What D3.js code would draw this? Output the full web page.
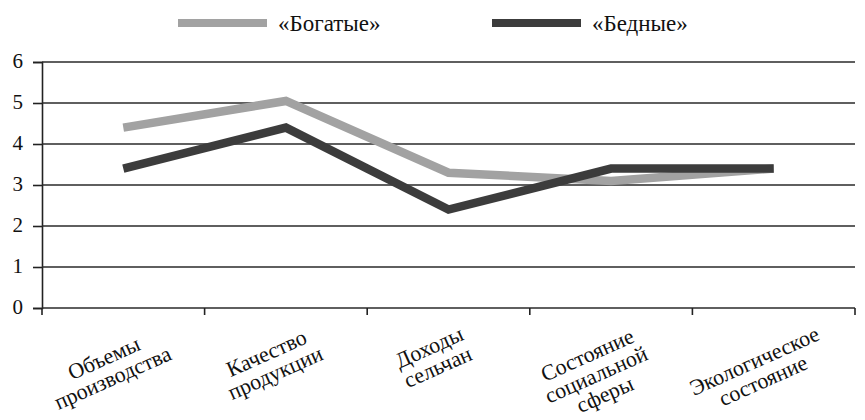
<!DOCTYPE html>
<html>
<head>
<meta charset="utf-8">
<script src="https://cdn.jsdelivr.net/npm/d3@7"></script>
<style>
  html, body { margin: 0; padding: 0; background: #fff; }
  svg { display: block; }
</style>
</head>
<body>
<svg id="chart" width="865" height="420"></svg>
<script>
// Category labels (line breaks as printed)
const categories = [
  ["Объемы", "производства"],
  ["Качество", "продукции"],
  ["Доходы", "сельчан"],
  ["Состояние", "социальной", "сферы"],
  ["Экологическое", "состояние"]
];
const seriesNames = ["«Богатые»", "«Бедные»"];
const richValues = [4.4, 5.05, 3.3, 3.1, 3.4];
const poorValues = [3.4, 4.4, 2.4, 3.4, 3.4];
const yTicks = [0, 1, 2, 3, 4, 5, 6];

const colors = ["#a2a2a2", "#3c3c3c"];
const FONT = "Liberation Serif";
const svg = d3.select("#chart");
const W = 865, H = 420;
const margin = { left: 42, right: 10, top: 62, bottom: 112 };

const x = d3.scaleBand()
  .domain(d3.range(categories.length))
  .range([margin.left, W - margin.right])
  .padding(0);
const y = d3.scaleLinear()
  .domain([0, 6])
  .range([H - margin.bottom, margin.top]);

// value axis with short outer ticks
const yAxis = d3.axisLeft(y).tickValues(yTicks).tickSize(9).tickPadding(10).tickFormat(d3.format("d"));
const gy = svg.append("g").attr("transform", `translate(${margin.left},0)`).call(yAxis)
  .attr("font-family", FONT).attr("font-size", 21);
gy.select(".domain").attr("stroke", "#222").attr("stroke-width", 1.6);
gy.selectAll(".tick line").attr("stroke", "#222").attr("stroke-width", 1.6);
gy.selectAll(".tick text").attr("fill", "#111").attr("dy", "0.26em");

// horizontal gridlines
svg.append("g").selectAll("line").data(yTicks).join("line")
  .attr("x1", margin.left).attr("x2", W - margin.right)
  .attr("y1", d => y(d)).attr("y2", d => y(d))
  .attr("stroke", "#2a2a2a").attr("stroke-width", 1.6);

// category axis: ticks at band boundaries
const boundaries = d3.range(categories.length + 1).map(i => margin.left + i * x.bandwidth());
svg.append("g").selectAll("line").data(boundaries).join("line")
  .attr("x1", d => d).attr("x2", d => d)
  .attr("y1", y(0)).attr("y2", y(0) + 7)
  .attr("stroke", "#222").attr("stroke-width", 1.6);

// rotated multi-line category labels
const labelTop = y(0) + 13;
categories.forEach((lines, i) => {
  const outer = svg.append("g");
  const t = outer.append("text")
    .attr("transform", "rotate(-24)")
    .attr("text-anchor", "middle")
    .attr("font-family", FONT)
    .attr("font-size", 22)
    .attr("fill", "#111");
  lines.forEach((ln, k) => {
    t.append("tspan").attr("x", 0).attr("dy", k === 0 ? 0 : "0.98em").text(ln);
  });
  const bb = outer.node().getBBox();
  const cx = x(i) + x.bandwidth() / 2 - 15;
  outer.attr("transform", `translate(${cx - (bb.x + bb.width / 2)},${labelTop - bb.y})`);
});

// series lines
const line = d3.line()
  .x((d, i) => x(i) + x.bandwidth() / 2)
  .y(d => y(d));
[richValues, poorValues].forEach((vals, s) => {
  svg.append("path")
    .datum(vals)
    .attr("d", line)
    .attr("fill", "none")
    .attr("stroke", colors[s])
    .attr("stroke-width", 8.5)
    .attr("stroke-linejoin", "miter");
});
// light series drawn on top where they cross
svg.select("path").raise();

// legend
const legendItems = [
  { name: seriesNames[0], color: colors[0], x0: 178 },
  { name: seriesNames[1], color: colors[1], x0: 492 }
];
const lg = svg.append("g");
legendItems.forEach(it => {
  lg.append("line")
    .attr("x1", it.x0).attr("x2", it.x0 + 89)
    .attr("y1", 23).attr("y2", 23)
    .attr("stroke", it.color).attr("stroke-width", 8);
  lg.append("text")
    .attr("x", it.x0 + 100).attr("y", 31)
    .attr("font-family", FONT)
    .attr("font-size", 23)
    .attr("fill", "#111")
    .text(it.name);
});
</script>
</body>
</html>
